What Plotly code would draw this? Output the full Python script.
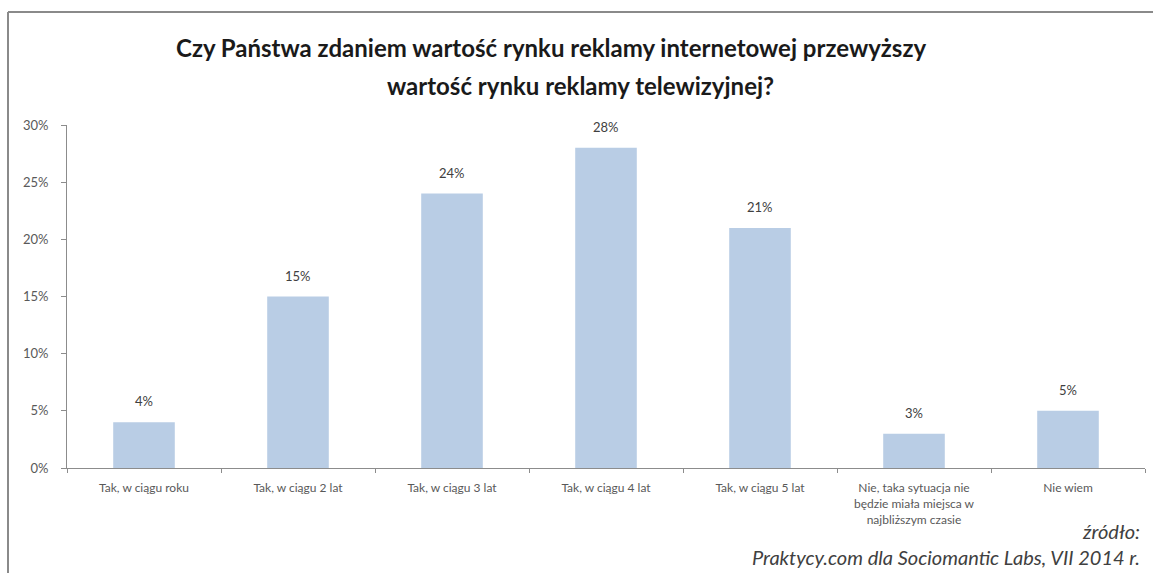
import plotly.graph_objects as go

categories = [
    "Tak, w ciągu roku",
    "Tak, w ciągu 2 lat",
    "Tak, w ciągu 3 lat",
    "Tak, w ciągu 4 lat",
    "Tak, w ciągu 5 lat",
    "Nie, taka sytuacja nie<br>będzie miała miejsca w<br>najbliższym czasie",
    "Nie wiem",
]
values = [0.04, 0.15, 0.24, 0.28, 0.21, 0.03, 0.05]
labels = ["4%", "15%", "24%", "28%", "21%", "3%", "5%"]
y_ticks = [0, 0.05, 0.10, 0.15, 0.20, 0.25, 0.30]
y_tick_text = ["0%", "5%", "10%", "15%", "20%", "25%", "30%"]

title_lines = [
    "Czy Państwa zdaniem wartość rynku reklamy internetowej przewyższy",
    "wartość rynku reklamy telewizyjnej?",
]
source_lines = ["źródło:", "Praktycy.com dla Sociomantic Labs, VII 2014 r."]

FONT = "Lato, Open Sans, sans-serif"
L, R, T, B = 67, 8, 125, 105
PW, PH = 1153 - L - R, 573 - T - B


def px_x(x):
    return (x - L) / PW


def px_y(y):
    return (573 - B - y) / PH


fig = go.Figure(
    go.Bar(
        x=categories,
        y=values,
        marker=dict(color="#b9cde5", line=dict(width=0)),
        hoverinfo="x+y",
    )
)

# Value labels above each bar
for cat, val, lab in zip(categories, values, labels):
    fig.add_annotation(
        x=cat, y=val, text=lab,
        showarrow=False, yanchor="middle", yshift=21,
        font=dict(family=FONT, size=13, color="#404040"),
    )

fig.update_layout(
    width=1153,
    height=573,
    margin=dict(l=L, r=R, t=T, b=B),
    paper_bgcolor="white",
    plot_bgcolor="white",
    bargap=0.6,
    showlegend=False,
    font=dict(family=FONT, color="#595959"),
)

fig.update_xaxes(
    showline=True,
    linecolor="#8c8c8c",
    linewidth=1,
    ticks="outside",
    tickson="boundaries",
    ticklen=4,
    tickcolor="#8c8c8c",
    tickfont=dict(size=12, color="#595959"),
    ticklabelstandoff=9,
    showgrid=False,
)
fig.update_yaxes(
    range=[0, 0.30],
    tickvals=y_ticks,
    ticktext=y_tick_text,
    showline=True,
    linecolor="#8c8c8c",
    linewidth=1,
    ticks="outside",
    ticklen=5,
    tickcolor="#8c8c8c",
    tickfont=dict(size=13, color="#595959"),
    ticklabelstandoff=10,
    showgrid=False,
    zeroline=False,
)

# Two-line bold heading
for line, xpx, ypx in zip(title_lines, [551, 580], [48, 85]):
    fig.add_annotation(
        text=f"<b>{line}</b>",
        xref="paper", yref="paper",
        x=px_x(xpx), y=px_y(ypx),
        xanchor="center", yanchor="middle",
        showarrow=False,
        font=dict(family=FONT, size=24, color="#1a1a1a"),
    )

# Source note, bottom right
for line, ypx in zip(source_lines, [531, 557]):
    fig.add_annotation(
        text=f"<i>{line}</i>",
        xref="paper", yref="paper",
        x=px_x(1142), y=px_y(ypx),
        xanchor="right", yanchor="middle",
        showarrow=False,
        font=dict(family=FONT, size=20, color="#404040"),
    )

# Frame on top and left edges
fig.add_shape(type="line", xref="paper", yref="paper",
              x0=px_x(8), x1=px_x(1153), y0=px_y(12), y1=px_y(12),
              line=dict(color="#8a8a8a", width=2))
fig.add_shape(type="line", xref="paper", yref="paper",
              x0=px_x(8), x1=px_x(8), y0=px_y(580), y1=px_y(12),
              line=dict(color="#8a8a8a", width=2))

fig.write_html("out.html")
